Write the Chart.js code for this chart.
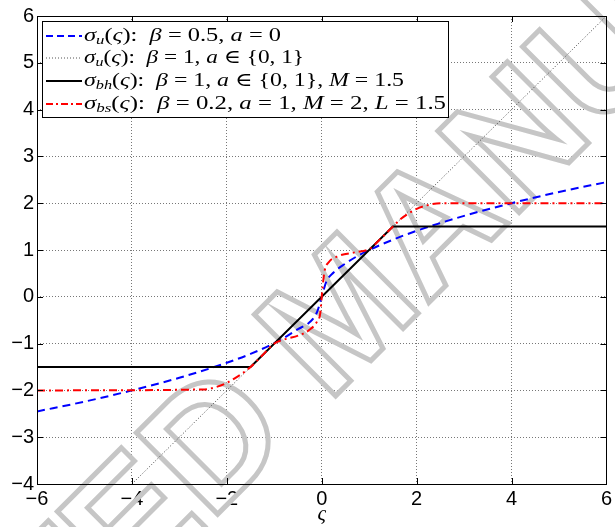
<!DOCTYPE html>
<html>
<head>
<meta charset="utf-8">
<script src="https://cdn.jsdelivr.net/npm/chart.js@4.4.0/dist/chart.umd.min.js"></script>
<style>
  html, body { margin: 0; padding: 0; background: #fff; }
  #wrap { width: 615px; height: 527px; }
</style>
</head>
<body>
<div id="wrap"><canvas id="chart" width="615" height="527"></canvas></div>
<script>
// axes
const xTicks = [-6, -4, -2, 0, 2, 4, 6];
const yTicks = [-4, -3, -2, -1, 0, 1, 2, 3, 4, 5, 6];

// sigma_u, beta = 0.5, a = 0 (blue dashed)
const blueX = [-6, -5, -4, -3, -2, -1.5, -1, -0.75, -0.5, -0.25, -0.1, 0, 0.1, 0.25, 0.5, 0.75, 1, 1.5, 2, 3, 4, 5, 6];
const blueY = [-2.45, -2.24, -2.0, -1.73, -1.41, -1.22, -0.99, -0.85, -0.69, -0.54, -0.33, 0, 0.33, 0.52, 0.71, 0.87, 1.0, 1.22, 1.41, 1.73, 2.0, 2.24, 2.45];

// sigma_u, beta = 1 (dotted identity)
const identX = [-4, 6];
const identY = [-4, 6];

// sigma_bh, M = 1.5 (black solid)
const hardX = [-6, -1.5, 1.5, 6];
const hardY = [-1.5, -1.5, 1.5, 1.5];

// sigma_bs, beta = 0.2, a = 1, M = 2, L = 1.5 (red dash-dot)
const softX = [-6, -2.5, -2.2, -2, -1.8, -1.65, -1.5, -1.25, -1, -0.75, -0.5, -0.25, -0.1, -0.03, 0, 0.02, 0.06, 0.15, 0.35, 0.7, 1, 1.25, 1.5, 1.65, 1.8, 2, 2.2, 2.5, 6];
const softY = [-2, -1.98, -1.92, -1.84, -1.72, -1.62, -1.5, -1.25, -1.0, -0.9, -0.83, -0.7, -0.53, -0.35, 0, 0.22, 0.55, 0.74, 0.87, 0.95, 1.02, 1.25, 1.5, 1.65, 1.76, 1.88, 1.95, 2, 2];

function pts(xs, ys) {
  return xs.map((x, i) => ({ x: x, y: ys[i] }));
}

const serif = '"Liberation Serif", "DejaVu Serif", serif';
const sans = '"Liberation Sans", Arial, sans-serif';

// legend rows: [style, text] with i = italic, r = roman, s = subscript
const legendRows = [
  { color: '#0000ff', dash: [7, 4], width: 2, w: 197,
    parts: [['i', 'σ'], ['s', 'u'], ['r', '('], ['i', 'ς'], ['r', '):  '], ['i', 'β'], ['r', ' = 0.5, '], ['i', 'a'], ['r', ' = 0']] },
  { color: '#555', dash: [1, 2], width: 1, w: 220,
    parts: [['i', 'σ'], ['s', 'u'], ['r', '('], ['i', 'ς'], ['r', '):  '], ['i', 'β'], ['r', ' = 1, '], ['i', 'a'], ['r', ' ∈ {0, 1}']] },
  { color: '#000', dash: [], width: 2, w: 320,
    parts: [['i', 'σ'], ['s', 'bh'], ['r', '('], ['i', 'ς'], ['r', '):  '], ['i', 'β'], ['r', ' = 1, '], ['i', 'a'], ['r', ' ∈ {0, 1}, '], ['i', 'M'], ['r', ' = 1.5']] },
  { color: '#ff0000', dash: [7, 3, 2, 3], width: 2, w: 362,
    parts: [['i', 'σ'], ['s', 'bs'], ['r', '('], ['i', 'ς'], ['r', '):  '], ['i', 'β'], ['r', ' = 0.2, '], ['i', 'a'], ['r', ' = 1, '], ['i', 'M'], ['r', ' = 2, '], ['i', 'L'], ['r', ' = 1.5']] }
];

function setPartFont(ctx, st) {
  if (st === 'i') ctx.font = 'italic 19px ' + serif;
  else if (st === 's') ctx.font = 'italic 13px ' + serif;
  else ctx.font = '19px ' + serif;
}

function drawRich(ctx, parts, x, y, targetW) {
  let total = 0;
  parts.forEach(p => { setPartFont(ctx, p[0]); total += ctx.measureText(p[1]).width; });
  ctx.save();
  ctx.translate(x, y);
  ctx.scale(targetW / total, 1);
  let cx = 0;
  parts.forEach(p => {
    setPartFont(ctx, p[0]);
    ctx.fillText(p[1], cx, p[0] === 's' ? 5 : 0);
    cx += ctx.measureText(p[1]).width;
  });
  ctx.restore();
}

// watermark behind the curves, anchored on the letter D
const watermark = {
  id: 'watermark',
  beforeDatasetsDraw(chart) {
    const ctx = chart.ctx;
    const size = 167;
    ctx.save();
    ctx.font = 'bold ' + size + 'px ' + sans;
    const txt = 'ACCEPTED MANUSCRIPT';
    const off = ctx.measureText('ACCEPTE').width + ctx.measureText('D').width / 2;
    ctx.translate(210, 437);
    ctx.rotate(-45 * Math.PI / 180);
    ctx.strokeStyle = '#c6c6c6';
    ctx.lineWidth = 5;
    ctx.lineJoin = 'miter';
    ctx.textBaseline = 'alphabetic';
    ctx.strokeText(txt, -off, size * 0.358);
    ctx.restore();
  }
};

// box, inward ticks, legend and axis title
const frame = {
  id: 'frame',
  afterDraw(chart) {
    const ctx = chart.ctx;
    const a = chart.chartArea;
    const xs = chart.scales.x, ys = chart.scales.y;
    ctx.save();
    ctx.strokeStyle = '#000';
    ctx.lineWidth = 1;
    ctx.setLineDash([]);
    ctx.beginPath();
    xTicks.forEach(v => {
      const px = Math.round(xs.getPixelForValue(v)) + 0.5;
      ctx.moveTo(px, a.bottom); ctx.lineTo(px, a.bottom - 6);
      ctx.moveTo(px, a.top); ctx.lineTo(px, a.top + 6);
    });
    yTicks.forEach(v => {
      const py = Math.round(ys.getPixelForValue(v)) + 0.5;
      ctx.moveTo(a.left, py); ctx.lineTo(a.left + 6, py);
      ctx.moveTo(a.right, py); ctx.lineTo(a.right - 6, py);
    });
    ctx.stroke();
    ctx.strokeRect(Math.round(a.left) + 0.5, Math.round(a.top) + 0.5, Math.round(a.right - a.left), Math.round(a.bottom - a.top));

    // legend
    ctx.fillStyle = '#fff';
    ctx.fillRect(42, 21, 406, 96);
    ctx.strokeRect(42.5, 21.5, 406, 96);
    const rowY = [36, 58, 81, 104];
    legendRows.forEach((r, i) => {
      ctx.save();
      ctx.strokeStyle = r.color;
      ctx.lineWidth = r.width;
      ctx.setLineDash(r.dash);
      ctx.beginPath();
      ctx.moveTo(46, rowY[i]);
      ctx.lineTo(82, rowY[i]);
      ctx.stroke();
      ctx.restore();
      ctx.fillStyle = '#000';
      ctx.textBaseline = 'middle';
      drawRich(ctx, r.parts, 84, rowY[i], r.w);
    });

    // x axis title
    ctx.fillStyle = '#000';
    ctx.font = 'italic 21px ' + serif;
    ctx.textAlign = 'center';
    ctx.textBaseline = 'middle';
    ctx.fillText('ς', (a.left + a.right) / 2, 514);
    ctx.restore();
  }
};

function minus(v) {
  return v < 0 ? '\u2212' + Math.abs(v) : String(v);
}

new Chart(document.getElementById('chart'), {
  type: 'line',
  data: {
    datasets: [
      {
        label: 'sigma_u beta=0.5',
        data: pts(blueX, blueY),
        borderColor: '#0000ff',
        borderWidth: 2,
        borderDash: [8, 5],
        cubicInterpolationMode: 'monotone',
        pointRadius: 0,
        order: 4
      },
      {
        label: 'sigma_u beta=1',
        data: pts(identX, identY),
        borderColor: '#444',
        borderWidth: 1,
        borderDash: [1, 2],
        pointRadius: 0,
        order: 3
      },
      {
        label: 'sigma_bh',
        data: pts(hardX, hardY),
        borderColor: '#000',
        borderWidth: 2,
        pointRadius: 0,
        order: 2
      },
      {
        label: 'sigma_bs',
        data: pts(softX, softY),
        borderColor: '#ff0000',
        borderWidth: 2,
        borderDash: [8, 4, 2, 4],
        cubicInterpolationMode: 'monotone',
        pointRadius: 0,
        order: 1
      }
    ]
  },
  options: {
    responsive: false,
    animation: false,
    layout: { padding: { left: 0, right: 8, top: 16, bottom: 0 } },
    plugins: {
      legend: { display: false },
      tooltip: { enabled: false }
    },
    scales: {
      x: {
        type: 'linear',
        min: -6,
        max: 6,
        afterBuildTicks: s => { s.ticks = xTicks.map(v => ({ value: v })); },
        afterFit: s => { s.height = 43; },
        grid: { color: '#777', lineWidth: 1, drawTicks: false },
        border: { display: false, dash: [1, 2] },
        ticks: {
          color: '#000',
          padding: 3,
          maxRotation: 0,
          font: { family: sans, size: 20 },
          callback: v => minus(v)
        }
      },
      y: {
        type: 'linear',
        min: -4,
        max: 6,
        afterBuildTicks: s => { s.ticks = yTicks.map(v => ({ value: v })); },
        afterFit: s => { s.width = 37; },
        grid: { color: '#777', lineWidth: 1, drawTicks: false },
        border: { display: false, dash: [1, 2] },
        ticks: {
          color: '#000',
          padding: 3,
          font: { family: sans, size: 20 },
          callback: v => minus(v)
        }
      }
    }
  },
  plugins: [watermark, frame]
});
</script>
</body>
</html>
